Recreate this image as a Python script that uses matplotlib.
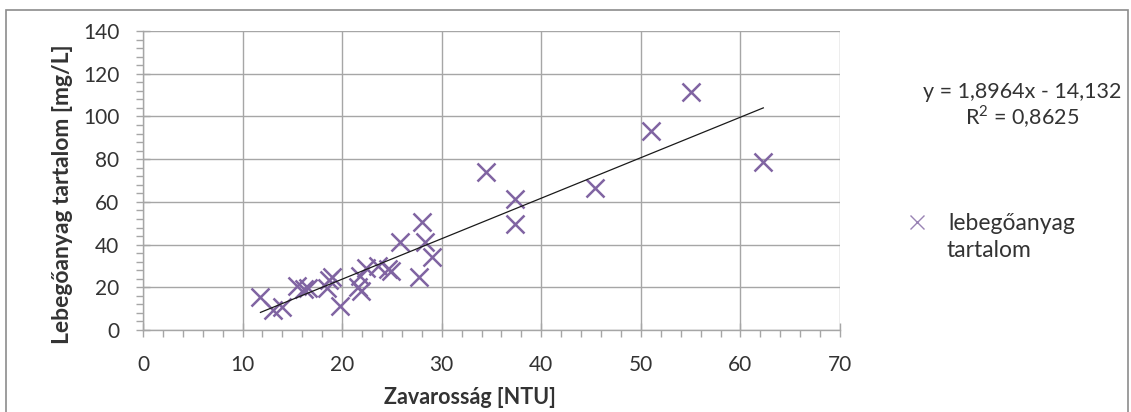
import numpy as np
import matplotlib
matplotlib.use("Agg")
import matplotlib.pyplot as plt
from matplotlib.ticker import MultipleLocator
from matplotlib.patches import Rectangle

# turbidity [NTU] vs suspended solids [mg/L]
zavarossag = [11.8, 13.1, 14.0, 15.5, 16.2, 16.6, 18.5, 18.7, 19.0, 19.8,
              21.6, 21.9, 22.4, 21.8, 23.6, 24.6, 24.9, 25.8, 27.7, 28.0,
              28.3, 29.0, 34.5, 37.4, 37.4, 45.4, 51.0, 55.0, 62.3]
lebegoanyag = [15.5, 9.5, 11.0, 20.5, 19.0, 19.8, 19.6, 23.4, 25.0, 11.2,
               20.0, 18.5, 28.9, 25.5, 29.8, 28.8, 27.8, 41.0, 25.0, 50.8,
               41.0, 34.0, 73.8, 61.5, 49.5, 66.5, 93.0, 111.5, 78.5]

slope = 1.8964
intercept = -14.132
eq_text = "y = 1,8964x - 14,132"
r2_text = "R$^2$ = 0,8625"
legend_line1 = "lebegőanyag"
legend_line2 = "tartalom"

xticks = [0, 10, 20, 30, 40, 50, 60, 70]
yticks = [0, 20, 40, 60, 80, 100, 120, 140]

purple = "#8064A2"
grid_c = "#A6A6A6"
txt_c = "#333333"

plt.rcParams['font.family'] = ['Lato', 'DejaVu Sans']
plt.rcParams['mathtext.fontset'] = 'custom'
plt.rcParams['mathtext.rm'] = 'Lato'

fig = plt.figure(figsize=(11.31, 4.12), dpi=100)
ax = fig.add_axes([0.1264, 0.199, 0.6163, 0.7257])

# outer chart border
fig.patches.append(Rectangle((0.005, -0.05), 0.992, 1.026, transform=fig.transFigure,
                             fill=False, edgecolor="#8C8C8C", linewidth=1.2))

ax.plot(zavarossag, lebegoanyag, linestyle="none", marker="x", markersize=13,
        markeredgewidth=1.8, color=purple, label=legend_line1, zorder=3)

xs = np.array([min(zavarossag), max(zavarossag)])
ax.plot(xs, slope * xs + intercept, color="#1a1a1a", linewidth=0.9, zorder=4)

ax.set_xlim(0, 70)
ax.set_ylim(0, 140)
ax.set_xticks(xticks)
ax.set_yticks(yticks)
ax.xaxis.set_minor_locator(MultipleLocator(2))
ax.yaxis.set_minor_locator(MultipleLocator(4))
ax.grid(True, which="major", color=grid_c, linewidth=1.0)
ax.set_axisbelow(True)

for s in ["top", "right"]:
    ax.spines[s].set_visible(False)
for s in ["left", "bottom"]:
    ax.spines[s].set_color(grid_c)
    ax.spines[s].set_linewidth(1.0)

ax.tick_params(which="major", direction="inout", length=10, width=1.0,
               color=grid_c, labelsize=15, labelcolor=txt_c)
ax.tick_params(which="minor", direction="out", length=5, width=1.0, color=grid_c)
ax.tick_params(axis="x", which="major", pad=13)
ax.tick_params(axis="y", which="major", pad=12)

ax.set_xlabel("Zavarosság [NTU]", fontsize=15.5, fontweight="bold", color=txt_c)
ax.set_ylabel("Lebegőanyag tartalom [mg/L]", fontsize=16.5, fontweight="bold", color=txt_c)
ax.xaxis.set_label_coords(0.469, -0.19)
ax.yaxis.set_label_coords(-0.100, 0.455)

fig.text(0.9036, 0.777, eq_text, ha="center", va="center", fontsize=15.5, color=txt_c)
fig.text(0.9036, 0.716, r2_text, ha="center", va="center", fontsize=15.5, color=txt_c)

leg = ax.legend(loc="center left", bbox_to_anchor=(0.801, 0.458), bbox_transform=fig.transFigure,
                frameon=False, fontsize=16.5, handlelength=1.0, handletextpad=0.85,
                borderpad=0, borderaxespad=0, markerscale=0.75)
for t in leg.get_texts():
    t.set_color(txt_c)
leg.legend_handles[0].set_markeredgewidth(1.0)
leg.legend_handles[0].set_alpha(0.8)
fig.text(0.8373, 0.391, legend_line2, ha="left", va="center", fontsize=16.5, color=txt_c)

fig.savefig("out.png", dpi=100)
